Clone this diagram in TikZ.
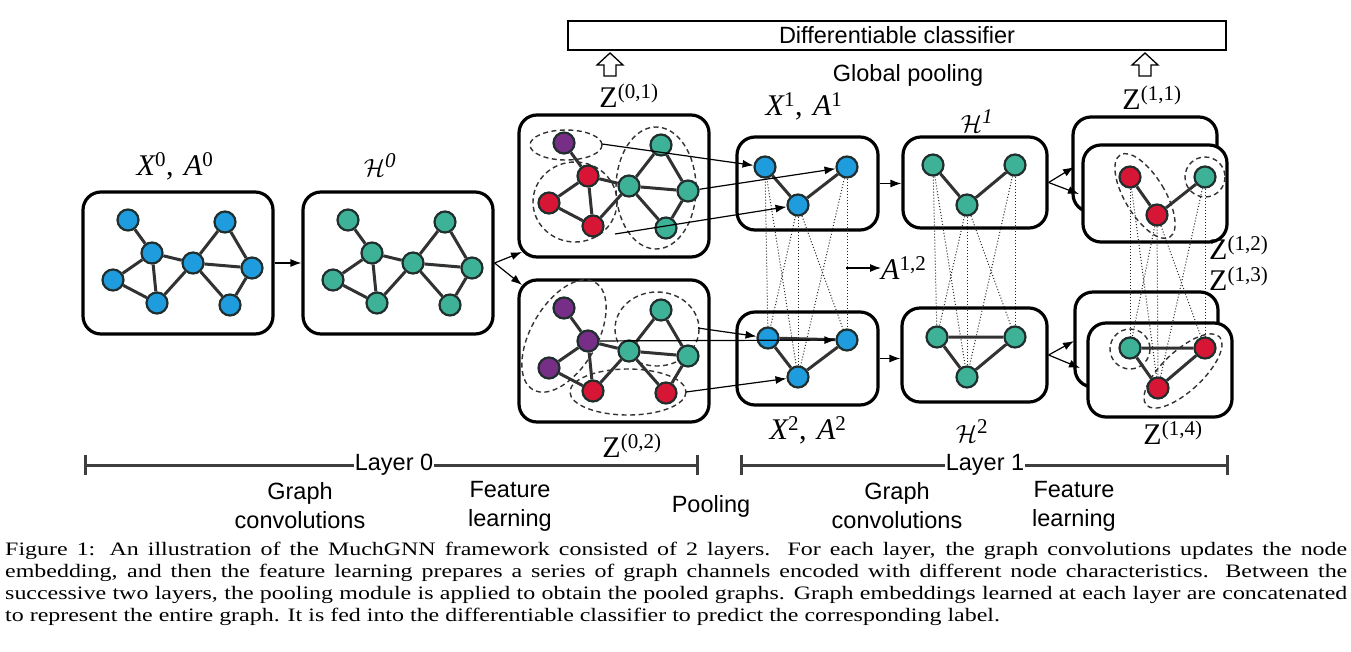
\documentclass[tikz,border=0pt]{standalone}
\usepackage{fontspec}
\setmainfont{Liberation Serif}
\setsansfont{Liberation Sans}
\newfontfamily\capfam[FakeStretch=1.26]{Liberation Serif}
\usetikzlibrary{arrows.meta,calc}
\definecolor{nblue}{RGB}{30,156,222}
\definecolor{nteal}{RGB}{62,178,150}
\definecolor{nred}{RGB}{214,22,52}
\definecolor{npurple}{RGB}{118,46,134}
\definecolor{nborder}{RGB}{32,46,46}
\definecolor{edgec}{RGB}{50,50,50}
\definecolor{barc}{RGB}{62,62,62}
\pgfdeclarelayer{bg}
\pgfdeclarelayer{mid}
\pgfsetlayers{bg,mid,main}
\newcommand\lfont{\fontsize{30}{32}\selectfont}
\newcommand\capfont{\capfam\fontsize{19}{22}\selectfont\hyphenpenalty=10000\exhyphenpenalty=10000}
\newcommand\sfont{\sffamily\fontsize{23.5}{29}\selectfont}
\newcommand\lab[2]{{\itshape #1}\textsuperscript{#2}}
\newcommand\calH[1]{{\fontsize{34}{34}\selectfont$\mathcal{H}$}\textsuperscript{#1}}
\tikzset{
  gn/.style={circle,draw=nborder,line width=2.2pt,minimum size=21pt,inner sep=0pt},
  gedge/.style={draw=edgec,line width=3pt},
  gbox/.style={draw=black,line width=3.2pt,rounded corners=18pt,fill=white,inner sep=0pt},
  dotl/.style={draw=black!85,line width=1pt,dash pattern=on 1pt off 2pt},
  dashe/.style={draw=black!80,line width=1.4pt,dash pattern=on 5pt off 3.5pt},
  arr/.style={-{Latex[length=11pt,width=8pt]},line width=1.2pt},
  lbl/.style={font=\lfont,inner sep=0pt},
  slbl/.style={font=\sfont,align=center,inner sep=0pt},
  bar/.style={draw=barc,line width=3pt},
  hollow/.style={draw=black,line width=1.3pt,fill=white,line join=miter}
}
\newcommand\biggraph[9]{%
  \node[gn,fill=#2] (#1n1) at (128,220) {};
  \node[gn,fill=#3] (#1n2) at (152,253) {};
  \node[gn,fill=#4] (#1n3) at (113,280) {};
  \node[gn,fill=#5] (#1n4) at (157,303) {};
  \node[gn,fill=#6] (#1n5) at (193,263) {};
  \node[gn,fill=#7] (#1n6) at (225,222) {};
  \node[gn,fill=#8] (#1n7) at (252,268) {};
  \node[gn,fill=#9] (#1n8) at (230,305) {};
  \begin{pgfonlayer}{mid}
  \foreach \a/\b in {n1/n2,n2/n3,n2/n4,n3/n4,n2/n5,n4/n5,n5/n6,n5/n7,n6/n7,n5/n8,n7/n8}
    \draw[gedge] (#1\a) -- (#1\b);
  \end{pgfonlayer}}
\newcommand\pooldots[6]{%
  \draw[dotl] (#1) -- (#4); \draw[dotl] (#1) -- (#5);
  \draw[dotl] (#2) -- (#4); \draw[dotl] (#2) -- (#5); \draw[dotl] (#2) -- (#6);
  \draw[dotl] (#3) -- (#5); \draw[dotl] (#3) -- (#6);}
\begin{document}
\begin{tikzpicture}[x=1pt,y=-1pt]
\useasboundingbox (0,0) rectangle (1351,651);
% ---------- boxes ----------
\begin{pgfonlayer}{bg}
\fill[white] (0,0) rectangle (1351,651);
\node[gbox,minimum width=190pt,minimum height=142pt] (bX0) at (178,263) {};
\node[gbox,minimum width=190pt,minimum height=142pt] (bH0) at (398,263) {};
\node[gbox,minimum width=190pt,minimum height=142pt] (bZ01) at (614,186) {};
\node[gbox,minimum width=190pt,minimum height=142pt] (bZ02) at (614,351) {};
\node[gbox,minimum width=141pt,minimum height=93pt] (bX1) at (807.5,183.5) {};
\node[gbox,minimum width=141pt,minimum height=93pt] (bX2) at (807.5,358.5) {};
\node[gbox,minimum width=144pt,minimum height=91pt] (bH1) at (975,182.5) {};
\node[gbox,minimum width=145pt,minimum height=94pt] (bH2) at (974.5,355) {};
\node[gbox,minimum width=144pt,minimum height=95pt] (bZ11k) at (1145,164.5) {};
\node[gbox,minimum width=144pt,minimum height=97pt] (bZ11) at (1155,193.5) {};
\node[gbox,minimum width=143pt,minimum height=95pt] (bZ14k) at (1146.5,339.5) {};
\node[gbox,minimum width=144pt,minimum height=94pt] (bZ14) at (1160,370) {};
\end{pgfonlayer}
% ---------- big graphs ----------
\biggraph{g}{nblue}{nblue}{nblue}{nblue}{nblue}{nblue}{nblue}{nblue}
\begin{scope}[shift={(220,0)}]
\biggraph{h}{nteal}{nteal}{nteal}{nteal}{nteal}{nteal}{nteal}{nteal}
\end{scope}
\begin{scope}[shift={(436,-77)}]
\biggraph{p}{npurple}{nred}{nred}{nred}{nteal}{nteal}{nteal}{nteal}
\end{scope}
\begin{scope}[shift={(436,88)}]
\biggraph{q}{npurple}{npurple}{npurple}{nred}{nteal}{nteal}{nteal}{nred}
\end{scope}
% ---------- small graphs ----------
\node[gn,fill=nblue] (x1a) at (765,167) {};
\node[gn,fill=nblue] (x1b) at (798,205) {};
\node[gn,fill=nblue] (x1c) at (847,167) {};
\node[gn,fill=nblue] (x2a) at (768,338) {};
\node[gn,fill=nblue] (x2b) at (798,377) {};
\node[gn,fill=nblue] (x2c) at (847,340) {};
\node[gn,fill=nteal] (h1a) at (933,165) {};
\node[gn,fill=nteal] (h1b) at (967,205) {};
\node[gn,fill=nteal] (h1c) at (1015,165) {};
\node[gn,fill=nteal] (h2a) at (937,337) {};
\node[gn,fill=nteal] (h2b) at (967,377) {};
\node[gn,fill=nteal] (h2c) at (1015,337) {};
\node[gn,fill=nred] (z1a) at (1130,177) {};
\node[gn,fill=nred] (z1b) at (1157,215) {};
\node[gn,fill=nteal] (z1c) at (1205,177) {};
\node[gn,fill=nteal] (z4a) at (1130,348) {};
\node[gn,fill=nred] (z4b) at (1158,388) {};
\node[gn,fill=nred] (z4c) at (1205,348) {};
\begin{pgfonlayer}{mid}
\pooldots{x1a}{x1b}{x1c}{x2a}{x2b}{x2c}
\pooldots{h1a}{h1b}{h1c}{h2a}{h2b}{h2c}
\pooldots{z1a}{z1b}{z1c}{z4a}{z4b}{z4c}
\draw[gedge] (x1a) -- (x1b) -- (x1c);
\draw[gedge] (x2a) -- (x2b) -- (x2c) -- (x2a);
\draw[gedge] (h1a) -- (h1b) -- (h1c);
\draw[gedge] (h2a) -- (h2b) -- (h2c) -- (h2a);
\draw[gedge] (z1a) -- (z1b) -- (z1c);
\draw[gedge] (z4a) -- (z4b) -- (z4c) -- (z4a);
% dashed groups
\draw[dashe] (566,145) ellipse [x radius=36, y radius=15];
\draw[dashe] (575,202) ellipse [x radius=42, y radius=40];
\draw[dashe] (656,188) ellipse [x radius=40, y radius=61];
\draw[dashe,rotate around={-30:(564,336)}] (564,336) ellipse [x radius=33, y radius=62];
\draw[dashe] (657,329) ellipse [x radius=42, y radius=37];
\draw[dashe] (628,392) ellipse [x radius=58, y radius=23];
\draw[dashe,rotate around={31:(1145,196)}] (1145,196) ellipse [x radius=20, y radius=48];
\draw[dashe] (1205,177) circle [radius=20];
\draw[dashe] (1130,349) circle [radius=20];
\draw[dashe,rotate around={-47:(1183,371)}] (1183,371) ellipse [x radius=20, y radius=50];
\end{pgfonlayer}
% ---------- labels ----------
\node[lbl] (lX0) at (175,166) {\lab{X}{0},\hspace{0.35em}\lab{A}{0}};
\node[lbl] (lH0) at (380,165) {\calH{\itshape 0}};
\node[lbl] (lZ01) at (629,96) {Z\textsuperscript{(0,1)}};
\node[lbl] (lX1) at (804,106) {\lab{X}{1},\hspace{0.35em}\lab{A}{1}};
\node[lbl] (lH1) at (977,121) {\calH{\itshape 1}};
\node[lbl] (lZ11) at (1152,98) {Z\textsuperscript{(1,1)}};
\node[lbl,anchor=west] (lZ12) at (1209,248) {Z\textsuperscript{(1,2)}};
\node[lbl,anchor=west] (lZ13) at (1209,279) {Z\textsuperscript{(1,3)}};
\node[lbl] (lX2) at (808,430) {\lab{X}{2},\hspace{0.35em}\lab{A}{2}};
\node[lbl] (lZ02) at (632,446) {Z\textsuperscript{(0,2)}};
\node[lbl] (lH2) at (972,431) {\calH{2}};
\node[lbl] (lZ14) at (1173,433) {Z\textsuperscript{(1,4)}};
\node[lbl,anchor=west] (lA12) at (881,268) {\lab{A}{1,2}};
% ---------- arrows ----------
\draw[arr] (bX0.east) -- (bH0.west);
\coordinate (z01i) at (522,252);
\coordinate (z02i) at (522,285);
\draw[arr] (bH0.east) -- (z01i);
\draw[arr] (bH0.east) -- (z02i);
\coordinate (zs1) at (602,144);
\coordinate (zs3) at (615,234);
\draw[arr] (zs1) -- (x1a);
\draw[arr] (pn7) -- (x1c);
\draw[arr] (zs3) -- (x1b);
\coordinate (zt1) at (698,328);
\coordinate (zt3) at (686,392);
\draw[arr] (zt1) -- (x2a);
\draw[arr] (qn2) -- (x2c);
\draw[arr] (zt3) -- (x2b);
\coordinate (a12s) at (846,268);
\draw[arr] (a12s) -- (lA12.west);
\draw[arr] (bX1.east) -- (bX1.east -| bH1.west);
\draw[arr] (bX2.east) -- (bX2.east -| bH2.west);
\coordinate (z11i) at (1074,167);
\coordinate (z11j) at (1079,194);
\draw[arr] (bH1.east) -- (z11i);
\draw[arr] (bH1.east) -- (z11j);
\coordinate (z14i) at (1074,341);
\coordinate (z14j) at (1080,368);
\draw[arr] (bH2.east) -- (z14i);
\draw[arr] (bH2.east) -- (z14j);
% ---------- classifier ----------
\node[draw,line width=1.3pt,minimum width=658pt,minimum height=29pt,inner sep=0pt,font=\sfont] (clf) at (897,35.5) {Differentiable classifier};
\node[slbl] (gp) at (908,75) {Global pooling};
\draw[hollow] (610,53) -- (623,65) -- (616,65) -- (616,76) -- (604,76) -- (604,65) -- (597,65) -- cycle;
\draw[hollow] (1145,53) -- (1158,65) -- (1151,65) -- (1151,76) -- (1139,76) -- (1139,65) -- (1132,65) -- cycle;
% ---------- timeline ----------
\node[slbl,fill=white,inner xsep=1pt] (l0) at (394,465) {Layer 0};
\node[slbl,fill=white,inner xsep=1pt] (l1) at (985,465) {Layer 1};
\coordinate (l0a) at (85,465);
\coordinate (l0b) at (697,465);
\coordinate (l1a) at (741,465);
\coordinate (l1b) at (1227,465);
\draw[bar] (l0a) -- (l0.west);
\draw[bar] (l0.east) -- (l0b);
\draw[bar] (l1a) -- (l1.west);
\draw[bar] (l1.east) -- (l1b);
\foreach \c in {l0a,l0b,l1a,l1b}
  \draw[bar] ($(\c)+(0,-10)$) -- ($(\c)+(0,10)$);
\node[slbl] (gc0) at (300,506) {Graph\\convolutions};
\node[slbl] (fl0) at (510,506) {Feature\\learning};
\node[slbl] (pool) at (711,506) {Pooling};
\node[slbl] (gc1) at (897,506) {Graph\\convolutions};
\node[slbl] (fl1) at (1074,506) {Feature\\learning};
% ---------- caption ----------
\node[anchor=north west,inner sep=0pt,text width=1342pt,align=justify,font=\capfont] (cap) at (5,542) {Figure 1: An illustration of the MuchGNN framework consisted of 2 layers. For each layer, the graph convolutions updates the node\linebreak
embedding, and then the feature learning prepares a series of graph channels encoded with different node characteristics. Between the\linebreak
successive two layers, the pooling module is applied to obtain the pooled graphs. Graph embeddings learned at each layer are concatenated\linebreak
to represent the entire graph. It is fed into the differentiable classifier to predict the corresponding label.};
\end{tikzpicture}
\end{document}
